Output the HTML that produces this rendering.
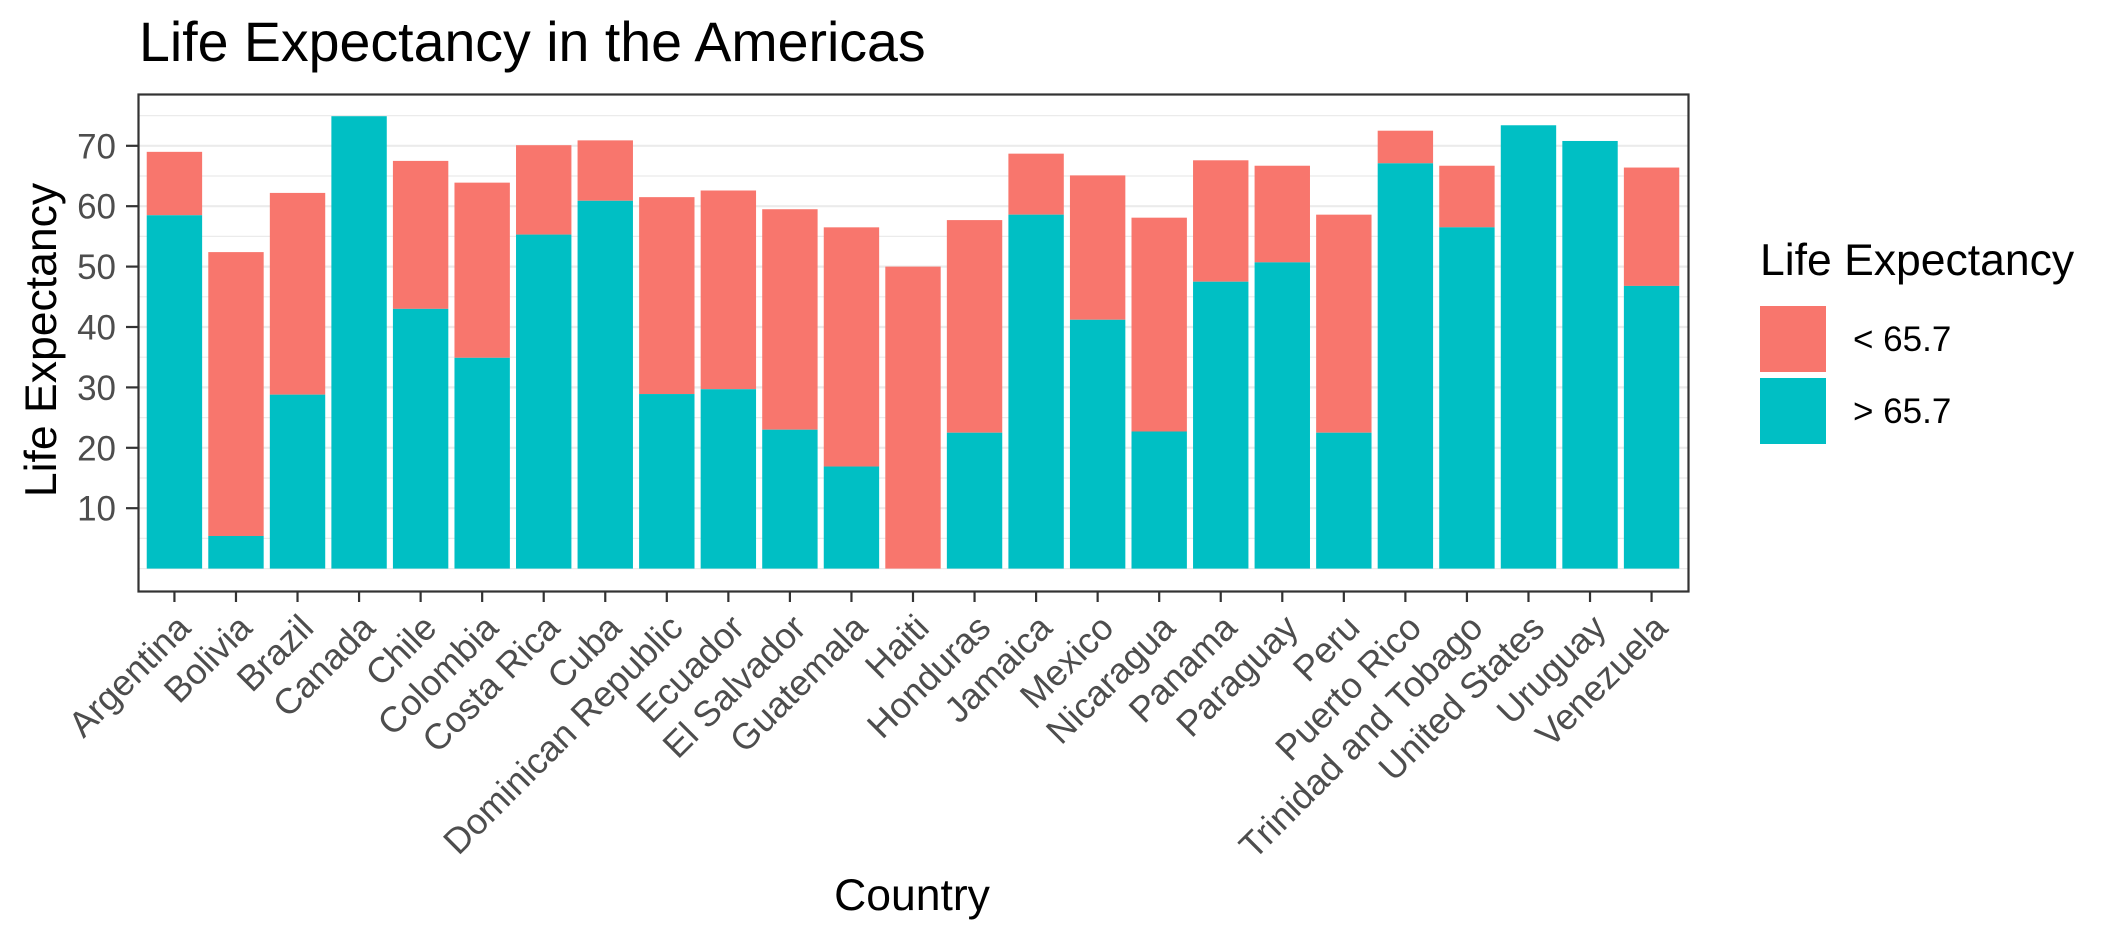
<!DOCTYPE html>
<html><head><meta charset="utf-8"><style>
html,body{margin:0;padding:0;background:#fff;}
svg{display:block;font-family:"Liberation Sans",Arial,sans-serif;}
</style></head><body>
<svg id="chart" width="2125" height="944" viewBox="0 0 2125 944" xmlns="http://www.w3.org/2000/svg">
<rect x="0" y="0" width="2125" height="944" fill="#fff"/>
<text x="139" y="61" font-size="55.5" fill="#000">Life Expectancy in the Americas</text>
<g id="grid"></g>
<g id="bars"></g>
<rect x="138.5" y="94.5" width="1550" height="497" fill="none" stroke="#333" stroke-width="2.2"/>
<g id="yaxis"></g>
<g id="xaxis"></g>
<text transform="translate(56,340) rotate(-90)" text-anchor="middle" font-size="44.5" fill="#000">Life Expectancy</text>
<text x="912" y="910" text-anchor="middle" font-size="44.5" fill="#000">Country</text>
<g>
<text x="1760" y="275" font-size="44.5" fill="#000">Life Expectancy</text>
<rect x="1760" y="306" width="66" height="66" fill="#F8766D"/>
<text x="1853" y="351" font-size="35" fill="#000">&lt; 65.7</text>
<rect x="1760" y="378" width="66" height="66" fill="#00BFC4"/>
<text x="1853" y="423" font-size="35" fill="#000">&gt; 65.7</text>
</g>
</svg>
<script>
const categories = ["Argentina","Bolivia","Brazil","Canada","Chile","Colombia","Costa Rica","Cuba","Dominican Republic","Ecuador","El Salvador","Guatemala","Haiti","Honduras","Jamaica","Mexico","Nicaragua","Panama","Paraguay","Peru","Puerto Rico","Trinidad and Tobago","United States","Uruguay","Venezuela"];
const totalValues = [69.0,52.4,62.2,74.9,67.5,63.9,70.1,70.9,61.5,62.6,59.5,56.5,50.0,57.7,68.7,65.1,58.1,67.6,66.7,58.6,72.5,66.7,73.4,70.8,66.4];
const aboveValues = [58.5,5.4,28.8,74.9,43.0,34.9,55.3,60.9,28.9,29.7,23.0,16.9,0,22.5,58.6,41.2,22.7,47.5,50.7,22.5,67.1,56.5,73.4,70.8,46.8];
const yTicks = [10,20,30,40,50,60,70];
const yGrid = [0,5,10,15,20,25,30,35,40,45,50,55,60,65,70,75];

const NS = "http://www.w3.org/2000/svg";
const panelL = 137.5, panelR = 1688.5, panelT = 94, panelB = 591;
const y0 = 568.6, yPer = 6.04;
const step = (panelR - panelL) / (categories.length + 0.2);
function yScale(v){ return y0 - v * yPer; }
function xCenter(i){ return panelL + (0.6 + i) * step; }
function mk(tag, attrs){ const e = document.createElementNS(NS, tag); for (const k in attrs) e.setAttribute(k, attrs[k]); return e; }

const grid = document.getElementById('grid');
yGrid.forEach(v => {
  const l = mk('line', {x1: panelL, x2: panelR, y1: yScale(v), y2: yScale(v), stroke: '#ebebeb', 'stroke-width': yTicks.includes(v) ? 2.2 : 1.2});
  
  
  grid.appendChild(l);
});

const bars = document.getElementById('bars');
const bw = step * 0.9;
categories.forEach((c, i) => {
  const x = xCenter(i) - bw / 2;
  const t = totalValues[i], a = aboveValues[i];
  if (t > a) {
    const r = mk('rect', {x: x, y: yScale(t), width: bw, height: yScale(a) - yScale(t), fill: '#F8766D'});
    
    
    bars.appendChild(r);
  }
  if (a > 0) {
    const r = mk('rect', {x: x, y: yScale(a), width: bw, height: yScale(0) - yScale(a), fill: '#00BFC4'});
    
    
    bars.appendChild(r);
  }
});

const yaxis = document.getElementById('yaxis');
yTicks.forEach(v => {
  const y = yScale(v);
  const tk = mk('line', {x1: 126, x2: panelL, y1: y, y2: y, stroke: '#333', 'stroke-width': 2.2});
  
  
  yaxis.appendChild(tk);
  const tx = mk('text', {x: 116, y: y + 12.5, 'text-anchor': 'end', 'font-size': 35, fill: '#4d4d4d'});
  tx.textContent = v;
  
  
  yaxis.appendChild(tx);
});

const xaxis = document.getElementById('xaxis');
categories.forEach((c, i) => {
  const x = xCenter(i);
  const tk = mk('line', {x1: x, x2: x, y1: panelB, y2: 602, stroke: '#333', 'stroke-width': 2.2});
  
  
  xaxis.appendChild(tk);
  const tx = mk('text', {transform: 'translate(' + (x + 18) + ',630) rotate(-45)', 'text-anchor': 'end', 'font-size': 36, fill: '#4d4d4d'});
  tx.textContent = c;
  
  
  xaxis.appendChild(tx);
});
</script>
</body></html>
